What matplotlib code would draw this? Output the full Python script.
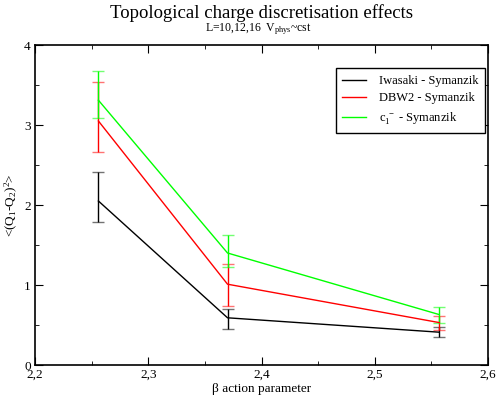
import matplotlib
matplotlib.use("Agg")
import matplotlib.pyplot as plt
from matplotlib.ticker import MultipleLocator, FuncFormatter
from matplotlib.lines import Line2D

plt.rcParams['font.family'] = ['Liberation Serif', 'DejaVu Serif']
plt.rcParams['mathtext.fontset'] = 'custom'
plt.rcParams['mathtext.rm'] = 'Liberation Serif'
plt.rcParams['mathtext.it'] = 'Liberation Serif'

beta = [2.256, 2.370, 2.557]

iwasaki = [2.05, 0.59, 0.41]
iwasaki_lo = [1.79, 0.45, 0.35]
iwasaki_hi = [2.41, 0.70, 0.48]

dbw2 = [3.05, 1.01, 0.53]
dbw2_lo = [2.66, 0.74, 0.44]
dbw2_hi = [3.54, 1.26, 0.61]

c1 = [3.31, 1.40, 0.63]
c1_lo = [3.09, 1.22, 0.53]
c1_hi = [3.67, 1.63, 0.72]

labels = ["Iwasaki - Symanzik", "DBW2 - Symanzik", "c$_1^{\\ -}$ - Symanzik"]
colors = ["#000000", "#ff0000", "#00ff00"]

fig = plt.figure(figsize=(4.98, 3.97), dpi=100)
ax = fig.add_axes([35/498, 1-365/397, (488-35)/498, (365-45)/397])

series = [(iwasaki, iwasaki_lo, iwasaki_hi), (dbw2, dbw2_lo, dbw2_hi), (c1, c1_lo, c1_hi)]
handles = []
for (y, lo, hi), lab, col in zip(series, labels, colors):
    yerr = [[v - l for v, l in zip(y, lo)], [h - v for v, h in zip(y, hi)]]
    eb = ax.errorbar(beta, y, yerr=yerr, color=col, lw=1.0, elinewidth=1.0,
                     capsize=4.5, capthick=1.0)
    for cap in eb[1]:
        cap.set_alpha(0.55)
    handles.append(Line2D([], [], color=col, lw=1.0, label=lab))

ax.set_xlim(2.2, 2.6)
ax.set_ylim(0, 4)
ax.xaxis.set_major_locator(MultipleLocator(0.1))
ax.xaxis.set_minor_locator(MultipleLocator(0.05))
ax.yaxis.set_major_locator(MultipleLocator(1))
ax.yaxis.set_minor_locator(MultipleLocator(0.5))
ax.xaxis.set_major_formatter(FuncFormatter(lambda v, p: ("%.1f" % v).replace('.', ',')))
ax.yaxis.set_major_formatter(FuncFormatter(lambda v, p: "%d" % round(v)))
ax.tick_params(which='both', direction='in', top=True, right=True, labelsize=9.5, pad=3)
ax.tick_params(which='major', length=6)
ax.tick_params(which='minor', length=3)
for s in ax.spines.values():
    s.set_linewidth(1.2)

ax.set_xlabel("β action parameter", fontsize=9.5, labelpad=1)
ax.set_ylabel("<(Q$_1$-Q$_2$)$^2$>", fontsize=9.5, labelpad=3)

fig.text(262/498, 1-13/397, "Topological charge discretisation effects", ha='center', va='center', fontsize=13.5)
fig.text(258/498, 1-29/397, "L=10,12,16  V$_{\\mathrm{phys}}$~cst", ha='center', va='center', fontsize=8.5)

leg = ax.legend(handles=handles, loc='upper right', bbox_to_anchor=(485/498, 1-68/397), bbox_transform=fig.transFigure,
                fontsize=9, frameon=True, fancybox=False, edgecolor='black', framealpha=1,
                handlelength=1.9, handletextpad=1.0, borderaxespad=0, labelspacing=0.45, borderpad=0.55)
leg.get_frame().set_linewidth(1.0)

fig.savefig("out.png", dpi=100)
